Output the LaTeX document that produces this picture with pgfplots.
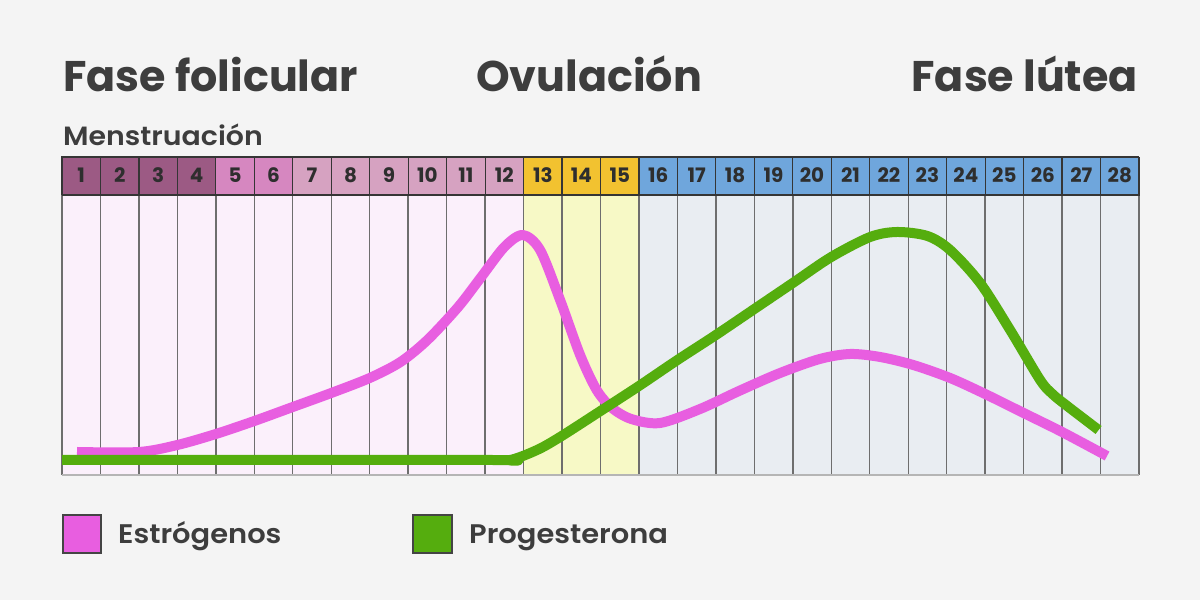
\documentclass[border=0pt]{standalone}
\usepackage{pgfplots}
\pgfplotsset{compat=1.18}
\usepackage{fontspec}
\setmainfont{Poppins}
\newfontfamily\pbold{Poppins Bold}
\newfontfamily\pmed{Poppins SemiBold}[FakeStretch=1.075]
\definecolor{bgc}{HTML}{F4F4F4}
\definecolor{txt}{HTML}{3D3D3D}
\definecolor{numc}{HTML}{2E2E2E}
\definecolor{pinkc}{HTML}{E85EE0}
\definecolor{greenc}{HTML}{55AD0E}
\definecolor{bpink}{HTML}{FBF0FB}
\definecolor{byel}{HTML}{F7F9C6}
\definecolor{bblue}{HTML}{E9EDF2}
\definecolor{hA}{HTML}{9C5A84}
\definecolor{hB}{HTML}{D687C0}
\definecolor{hC}{HTML}{D6A2C1}
\definecolor{hD}{HTML}{F2C230}
\definecolor{hE}{HTML}{6FA6DC}
\definecolor{gridc}{HTML}{6E6E6E}
\definecolor{hdrline}{HTML}{353535}
\definecolor{botline}{HTML}{B5B5B5}
\definecolor{legb}{HTML}{444444}
\begin{document}
\begin{tikzpicture}[x=1bp,y=1bp]
\fill[bgc] (0,0) rectangle (1200,600);
\begin{axis}[at={(62bp,125bp)}, anchor=origin, scale only axis,
  width=1077bp, height=318bp, xmin=0, xmax=28, ymin=0, ymax=318,
  axis lines=none, ticks=none, clip=false]
% body backgrounds
\addplot[fill=bpink, draw=none] coordinates {(0,0) (12,0) (12,280) (0,280)} -- cycle;
\addplot[fill=byel, draw=none] coordinates {(12,0) (15,0) (15,280) (12,280)} -- cycle;
\addplot[fill=bblue, draw=none] coordinates {(15,0) (28,0) (28,280) (15,280)} -- cycle;
% header backgrounds
\addplot[fill=hA, draw=none] coordinates {(0,280) (4,280) (4,318) (0,318)} -- cycle;
\addplot[fill=hB, draw=none] coordinates {(4,280) (6,280) (6,318) (4,318)} -- cycle;
\addplot[fill=hC, draw=none] coordinates {(6,280) (12,280) (12,318) (6,318)} -- cycle;
\addplot[fill=hD, draw=none] coordinates {(12,280) (15,280) (15,318) (12,318)} -- cycle;
\addplot[fill=hE, draw=none] coordinates {(15,280) (28,280) (28,318) (15,318)} -- cycle;
% body grid lines
\addplot[ycomb, draw=gridc, line width=1.4bp, mark=none] coordinates {
(0,280) (1,280) (2,280) (3,280) (4,280) (5,280) (6,280) (7,280) (8,280) (9,280)
(10,280) (11,280) (12,280) (13,280) (14,280) (15,280) (16,280) (17,280) (18,280)
(19,280) (20,280) (21,280) (22,280) (23,280) (24,280) (25,280) (26,280) (27,280) (28,280)};
% bottom line
\addplot[draw=botline, line width=1.5bp] coordinates {(0,0) (28,0)};
% header lines
\addplot[draw=hdrline, line width=1.2bp] coordinates {
(0,280) (0,318) (1,318) (1,280) (2,280) (2,318) (3,318) (3,280) (4,280) (4,318)
(5,318) (5,280) (6,280) (6,318) (7,318) (7,280) (8,280) (8,318) (9,318) (9,280)
(10,280) (10,318) (11,318) (11,280) (12,280) (12,318) (13,318) (13,280) (14,280) (14,318)
(15,318) (15,280) (16,280) (16,318) (17,318) (17,280) (18,280) (18,318) (19,318) (19,280)
(20,280) (20,318) (21,318) (21,280) (22,280) (22,318) (23,318) (23,280) (24,280) (24,318)
(25,318) (25,280) (26,280) (26,318) (27,318) (27,280) (28,280) (28,318)};
\addplot[draw=hdrline, line width=1.2bp] coordinates {(0,318) (28,318)};
\addplot[draw=hdrline, line width=1.2bp] coordinates {(0,280) (28,280)};
% day numbers
\pgfplotsinvokeforeach{1,...,28}{
  \node[anchor=base, inner sep=0pt, text=numc, font=\pbold\fontsize{20}{24}\selectfont]
    at (axis cs:#1-0.5,292) {#1};
}
% Estrogenos
\addplot[pinkc, line width=10bp, smooth, tension=0.5, line cap=butt, line join=round] coordinates {
(0.39,23) (2.0,23) (3.0,30) (4.0,41) (5.0,54) (6.0,68) (7.0,82) (8.0,97) (8.8,113)
(9.5,135) (10.3,168) (10.9,198) (11.5,228) (11.98,240) (12.43,225) (12.95,175) (13.47,120)
(13.9,85) (14.3,67) (14.8,56) (15.55,52) (16.59,66) (17.6,84) (18.67,102) (19.7,116)
(20.49,121) (21.27,118) (22.13,110) (23.09,97) (24.0,81) (25.0,62) (26.0,43) (27.17,19)};
% Progesterona
\addplot[greenc, line width=10bp, smooth, tension=0.5, line cap=butt, line join=round] coordinates {
(0,15) (11.0,15) (11.65,15) (12.35,25) (12.95,38) (14,64) (15,89) (16,115) (17,140)
(18,166) (19,192) (20,218) (21.01,238) (21.71,243) (22.5,239) (23.09,225) (23.87,192)
(24.65,145) (25.43,95) (25.75,81) (26.1,70) (26.95,45)};
\end{axis}
% titles
\node[anchor=base west, inner sep=0pt, text=txt, font=\pbold\fontsize{43}{50}\selectfont] at (63,508) {Fase folicular};
\node[anchor=base west, inner sep=0pt, text=txt, font=\pbold\fontsize{43}{50}\selectfont] at (476,508) {Ovulación};
\node[anchor=base east, inner sep=0pt, text=txt, font=\pbold\fontsize{43}{50}\selectfont] at (1138,508) {Fase lútea};
\node[anchor=base west, inner sep=0pt, text=txt, font=\pmed\fontsize{26.5}{30}\selectfont] at (63,454) {Menstruación};
% legend
\draw[fill=pinkc, draw=legb, line width=1.5bp] (63,47) rectangle (101,85);
\node[anchor=base west, inner sep=0pt, text=txt, font=\pmed\fontsize{27}{30}\selectfont] at (118,56) {Estrógenos};
\draw[fill=greenc, draw=legb, line width=1.5bp] (413,47) rectangle (452,85);
\node[anchor=base west, inner sep=0pt, text=txt, font=\pmed\fontsize{27}{30}\selectfont] at (469,56) {Progesterona};
\end{tikzpicture}
\end{document}
